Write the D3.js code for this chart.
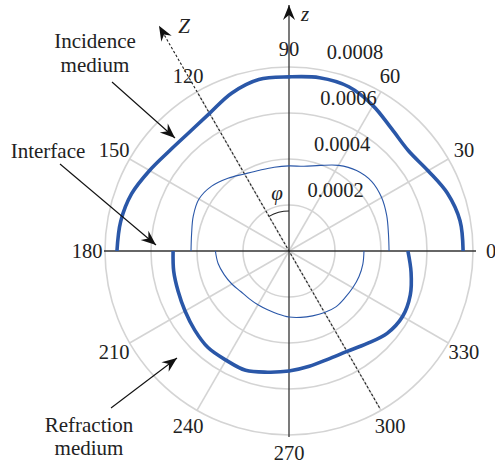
<!DOCTYPE html>
<html><head><meta charset="utf-8">
<script src="https://cdn.jsdelivr.net/npm/d3@7"></script>
<style>
html,body{margin:0;padding:0;background:#fff;}
</style></head>
<body>
<svg id="chart" width="495" height="464"></svg>
<script>
// ---- data ----
const upperAngles = [0,10,20,30,40,50,60,70,80,90,100,110,120,130,140,150,160,170,180];
const lowerAngles = [180,190,200,210,220,230,240,250,260,270,280,290,300,310,320,330,340,350,360];
const incidenceThick = [0.000757,0.000755,0.000733,0.000698,0.000678,0.000694,0.000730,0.000760,0.000765,0.000757,0.000757,0.000730,0.000691,0.000674,0.000678,0.000700,0.000728,0.000743,0.000748];
const refractionThick = [0.000504,0.000509,0.000513,0.000522,0.000535,0.000548,0.000548,0.000552,0.000535,0.000522,0.000509,0.000500,0.000504,0.000526,0.000557,0.000570,0.000561,0.000539,0.000517];
const incidenceThin = [0.000435,0.000439,0.000452,0.000465,0.000470,0.000457,0.000430,0.000396,0.000374,0.000370,0.000370,0.000374,0.000387,0.000413,0.000439,0.000452,0.000443,0.000430,0.000426];
const refractionThin = [0.000320,0.000313,0.000300,0.000287,0.000274,0.000270,0.000270,0.000272,0.000278,0.000287,0.000293,0.000300,0.000309,0.000317,0.000317,0.000320,0.000324,0.000326,0.000326];
const radialTicks = [0.0002,0.0004,0.0006,0.0008];
const radialTickLabels = ["0.0002","0.0004","0.0006","0.0008"];
const angleTicks = [0,30,60,90,120,150,180,210,240,270,300,330];
const zAxisAngle = 120;

// ---- setup ----
const FONT = '"Liberation Serif", "Times New Roman", "DejaVu Serif", serif';
const svg = d3.select("#chart");
const cx = 289, cy = 251, R = 184;
const r = d3.scaleLinear().domain([0, 0.0008]).range([0, R]);
const rad = d => d * Math.PI / 180;
const px = (deg, rr) => rr * Math.cos(rad(deg));
const py = (deg, rr) => -rr * Math.sin(rad(deg));

const defs = svg.append("defs");
defs.append("marker").attr("id","ah").attr("viewBox","-16 -7 18 14")
  .attr("refX",0).attr("refY",0).attr("markerWidth",18).attr("markerHeight",14)
  .attr("markerUnits","userSpaceOnUse").attr("orient","auto")
  .append("path").attr("d","M0,0 L-15,-6 L-10,0 L-15,6 Z").attr("fill","#111");

const g = svg.append("g").attr("transform", `translate(${cx},${cy})`);

// grid rings
g.selectAll("circle.ring").data(radialTicks).join("circle")
  .attr("class","ring").attr("r", d => r(d))
  .attr("fill","none").attr("stroke","#d4d4d4").attr("stroke-width",1.6);

// spokes
g.selectAll("line.spoke").data(angleTicks.filter(a => a % 90 !== 0)).join("line")
  .attr("class","spoke").attr("x1",0).attr("y1",0)
  .attr("x2", d => px(d, R)).attr("y2", d => py(d, R))
  .attr("stroke","#d4d4d4").attr("stroke-width",1.6);

// main axes
g.append("line").attr("x1", -R-1).attr("y1",0).attr("x2", R+3).attr("y2",0)
  .attr("stroke","#333").attr("stroke-width",1.3);
g.append("line").attr("x1",0).attr("y1", R+2).attr("x2",0).attr("y2",-246)
  .attr("stroke","#333").attr("stroke-width",1.3).attr("marker-end","url(#ah)");

// Z dashed axis
g.append("line").attr("x1", px(zAxisAngle+180, 181)).attr("y1", py(zAxisAngle+180, 181))
  .attr("x2", px(zAxisAngle, 260)).attr("y2", py(zAxisAngle, 260))
  .attr("stroke","#222").attr("stroke-width",1.1).attr("stroke-dasharray","2.5,2")
  .attr("marker-end","url(#ah)");

// phi arc
const arc = d3.arc().innerRadius(40).outerRadius(40).startAngle(0).endAngle(rad(-(zAxisAngle-90)));
g.append("path").attr("d", arc()).attr("fill","none").attr("stroke","#222").attr("stroke-width",1.1);

// curves
const line = d3.lineRadial()
  .angle(d => rad(90 - d[0]))
  .radius(d => r(d[1]))
  .curve(d3.curveCatmullRom);
const blue = "#2a57a8";
const series = [
  {a: upperAngles, v: incidenceThick, w: 3.6},
  {a: lowerAngles, v: refractionThick, w: 3.6},
  {a: upperAngles, v: incidenceThin, w: 1.1},
  {a: lowerAngles, v: refractionThin, w: 1.1}
];
series.forEach(s => {
  g.append("path").datum(d3.zip(s.a, s.v)).attr("d", line)
    .attr("fill","none").attr("stroke", blue).attr("stroke-width", s.w)
    .attr("stroke-linecap","butt");
});

function styleText(sel, size, italic) {
  return sel.style("font-family", FONT).style("font-size", size + "px")
    .style("font-style", italic ? "italic" : "normal").style("fill", "#222");
}

// angle labels
styleText(g.selectAll("text.ang").data(angleTicks).join("text")
  .attr("class","ang")
  .attr("x", d => px(d, 202)).attr("y", d => py(d, 202))
  .attr("text-anchor","middle").attr("dominant-baseline","central")
  .text(d => d), 20.5);

// radial labels
styleText(g.selectAll("text.rlab").data(radialTicks).join("text")
  .attr("class","rlab")
  .attr("x", d => 12 + 0.14 * r(d)).attr("y", d => -r(d) - 8)
  .text((d,i) => radialTickLabels[i]), 20.5);

// axis letters
styleText(svg.append("text").attr("x",305).attr("y",21).attr("text-anchor","middle").text("z"), 21, true);
styleText(svg.append("text").attr("x",184).attr("y",33).attr("text-anchor","middle").text("Z"), 21, true);
styleText(svg.append("text").attr("x",277).attr("y",200).attr("text-anchor","middle").text("φ"), 21, true);

// annotations
function note(lines, x, y0, lh) {
  const t = styleText(svg.append("text").attr("text-anchor","middle"), 21, false);
  lines.forEach((s,i) => t.append("tspan").attr("x",x).attr("y",y0 + i*lh).text(s));
}
note(["Incidence","medium"], 95, 48, 24);
note(["Interface"], 48, 158, 24);
note(["Refraction","medium"], 89, 432, 23);

function arrow(x1,y1,x2,y2){
  svg.append("line").attr("x1",x1).attr("y1",y1).attr("x2",x2).attr("y2",y2)
    .attr("stroke","#111").attr("stroke-width",1.1).attr("marker-end","url(#ah)");
}
arrow(112, 82, 175, 138);
arrow(60, 164, 156, 245);
arrow(111, 408, 177, 358);
</script>
</body></html>
